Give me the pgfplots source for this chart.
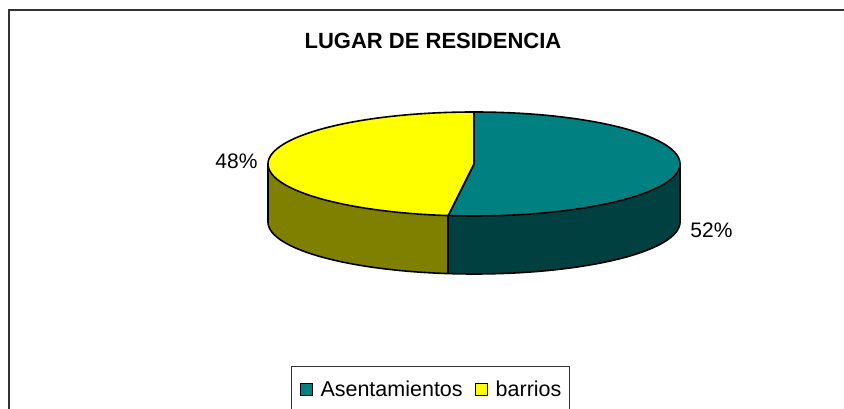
\documentclass[border=0pt]{standalone}
\usepackage{pgfplots}
\pgfplotsset{compat=1.18}
\usepackage{pgfplotstable}
\usepgfplotslibrary{fillbetween}
\usepackage{fontspec}
\setmainfont{Liberation Sans}
\definecolor{tealtop}{RGB}{0,128,128}
\definecolor{tealside}{RGB}{0,64,64}
\definecolor{yeltop}{RGB}{255,255,0}
\definecolor{yelside}{RGB}{128,128,0}
\definecolor{framecol}{RGB}{51,51,51}
\pgfplotstableread{
name value
Asentamientos 52
barrios 48
}\datatable
\pgfplotstablegetelem{0}{value}\of\datatable \let\valA\pgfplotsretval
\pgfplotstablegetelem{1}{value}\of\datatable \let\valB\pgfplotsretval
\pgfmathsetmacro\fracA{\valA/(\valA+\valB)}
\pgfmathsetmacro\split{90-360*\fracA}
\def\cx{474}\def\cy{164}\def\rx{206}\def\ry{52}\def\dep{58}
\begin{document}
\begin{tikzpicture}
\begin{axis}[width=844pt,height=409pt,scale only axis,
  xmin=0,xmax=844,ymin=0,ymax=409,y dir=reverse,hide axis,clip=false,
  samples=150,
  legend style={at={(axis cs:291,366)},anchor=north west,draw=framecol,line width=1pt,
    font=\fontsize{21.5}{25}\selectfont,inner xsep=8pt,inner ysep=12pt,
    nodes={inner xsep=0pt,inner ysep=2pt},
    /tikz/every odd column/.append style={column sep=8pt},
    /tikz/every even column/.append style={column sep=12pt}},
  legend columns=-1,
  legend image code/.code={\draw[#1,draw=black,line width=1pt] (0pt,-6pt) rectangle (12pt,6pt);},
]
\addlegendimage{fill=tealtop}
\addlegendentry{Asentamientos}
\addlegendimage{fill=yeltop}
\addlegendentry{barrios\hspace{5pt}}
% frame
\addplot[framecol,line width=2pt] coordinates {(9,409) (9,10) (844,10)};
% side faces
\addplot[name path=Atop,draw=none,domain=\split:0] ({\cx+\rx*cos(x)},{\cy-\ry*sin(x)});
\addplot[name path=Abot,draw=none,domain=\split:0] ({\cx+\rx*cos(x)},{\cy+\dep-\ry*sin(x)});
\addplot[tealside] fill between[of=Atop and Abot];
\addplot[name path=Btop,draw=none,domain=-180:\split] ({\cx+\rx*cos(x)},{\cy-\ry*sin(x)});
\addplot[name path=Bbot,draw=none,domain=-180:\split] ({\cx+\rx*cos(x)},{\cy+\dep-\ry*sin(x)});
\addplot[yelside] fill between[of=Btop and Bbot];
\addplot[black,line width=1.6pt,domain=-180:0] ({\cx+\rx*cos(x)},{\cy+\dep-\ry*sin(x)});
\addplot[black,line width=1.6pt,domain=0:\dep,samples=2] ({\cx+\rx*cos(\split)},{\cy-\ry*sin(\split)+x});
\addplot[black,line width=1.6pt,domain=0:\dep,samples=2] ({\cx-\rx},{\cy+x});
\addplot[black,line width=1.6pt,domain=0:\dep,samples=2] ({\cx+\rx},{\cy+x});
% top faces
\addplot[fill=tealtop,draw=black,line width=1.6pt,line join=round,domain=\split:90] ({\cx+\rx*cos(x)},{\cy-\ry*sin(x)}) -- (\cx,\cy) -- cycle;
\addplot[fill=yeltop,draw=black,line width=1.6pt,line join=round,domain=-270:\split] ({\cx+\rx*cos(x)},{\cy-\ry*sin(x)}) -- (\cx,\cy) -- cycle;
% labels
\node[font=\fontsize{22}{26}\selectfont\bfseries] at (axis cs:433,40.5) {LUGAR DE RESIDENCIA};
\node[font=\fontsize{21}{25}\selectfont] at (axis cs:236.5,161.5) {48\%};
\node[font=\fontsize{21}{25}\selectfont] at (axis cs:711.5,230.5) {52\%};
\end{axis}
\pgfresetboundingbox
\path[use as bounding box] (0,0) rectangle (844pt,409pt);
\end{tikzpicture}
\end{document}
